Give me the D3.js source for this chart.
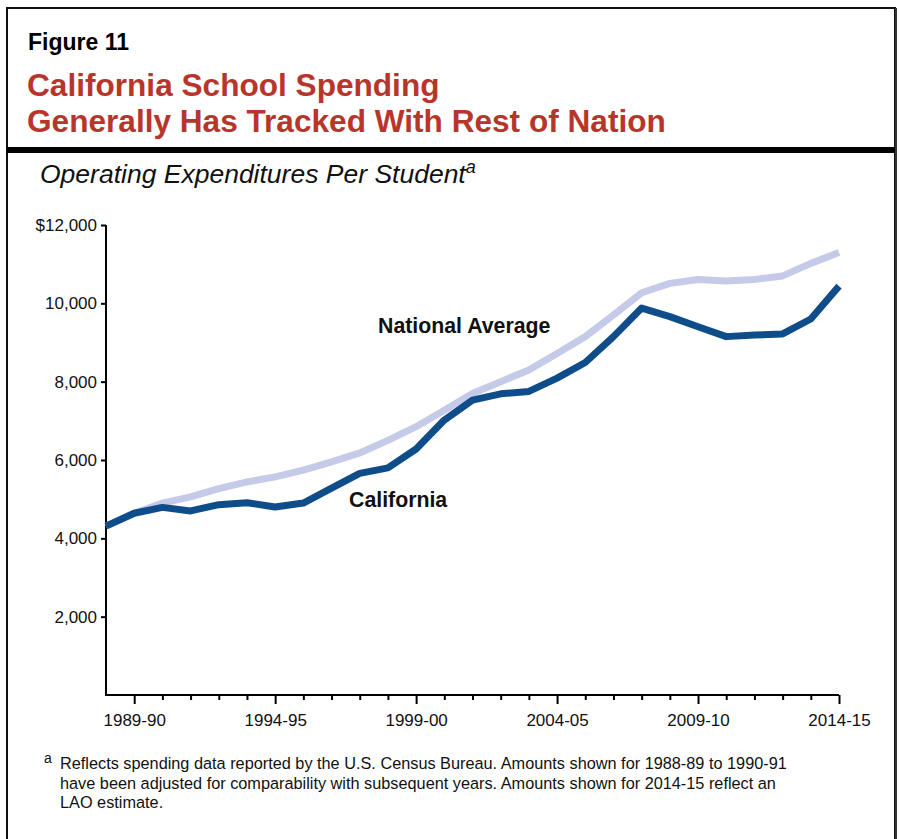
<!DOCTYPE html>
<html><head><meta charset="utf-8">
<script src="https://cdn.jsdelivr.net/npm/d3@7"></script>
<style>
html,body{margin:0;padding:0;background:#fff;}
svg{display:block;font-family:"Liberation Sans",Arial,sans-serif;}
</style></head>
<body>
<svg id="chart" width="900" height="839"></svg>
<script>
const years = ["1988-89","1989-90","1990-91","1991-92","1992-93","1993-94","1994-95","1995-96","1996-97","1997-98","1998-99","1999-00","2000-01","2001-02","2002-03","2003-04","2004-05","2005-06","2006-07","2007-08","2008-09","2009-10","2010-11","2011-12","2012-13","2013-14","2014-15"];
const california = [4310,4640,4790,4700,4860,4910,4800,4900,5280,5660,5800,6280,7020,7530,7690,7750,8090,8490,9150,9880,9660,9400,9150,9190,9220,9600,10440];
const national   = [4310,4640,4900,5060,5270,5440,5570,5740,5950,6180,6500,6850,7270,7700,8000,8300,8720,9150,9700,10270,10510,10610,10570,10610,10700,11020,11300];
const yTicks = [2000,4000,6000,8000,10000,12000];
const xLabels = ["1989-90","1994-95","1999-00","2004-05","2009-10","2014-15"];
const footnoteLines = [
  "Reflects spending data reported by the U.S. Census Bureau. Amounts shown for 1988-89 to 1990-91",
  "have been adjusted for comparability with subsequent years. Amounts shown for 2014-15 reflect an",
  "LAO estimate."
];

const svg = d3.select("#chart");
const red = "#b8352b";

// frame
svg.append("path").attr("d","M7,839 V8 H895 V839").attr("fill","none").attr("stroke","#111").attr("stroke-width",2);
svg.append("rect").attr("x",7).attr("y",147).attr("width",888).attr("height",6).attr("fill","#000");
svg.append("line").attr("x1",896).attr("x2",896).attr("y1",8).attr("y2",839).attr("stroke","#333").attr("stroke-width",2);

// titles
svg.append("text").attr("x",28).attr("y",50).attr("font-size",23).attr("font-weight","bold").attr("fill","#000").text("Figure 11");
svg.append("text").attr("x",27).attr("y",96).attr("font-size",31.6).attr("font-weight","bold").attr("fill",red).text("California School Spending");
svg.append("text").attr("x",27).attr("y",132).attr("font-size",31.6).attr("font-weight","bold").attr("fill",red).text("Generally Has Tracked With Rest of Nation");

const sub = svg.append("text").attr("x",40).attr("y",183).attr("font-size",26.5).attr("font-style","italic").attr("fill","#111");
sub.append("tspan").text("Operating Expenditures Per Student");
sub.append("tspan").attr("font-size",18).attr("dy",-10).text("a");

// scales
const x = d3.scalePoint().domain(years).range([106,839]);
const y = d3.scaleLinear().domain([0,12000]).range([695,225]);

// axes
const xAxis = d3.axisBottom(x).tickSize(5).tickFormat(d => xLabels.includes(d) ? d : "");
const gx = svg.append("g").attr("transform","translate(0,695)").call(xAxis);
gx.select(".domain").attr("stroke","#000").attr("stroke-width",2).attr("d","M105,0H839");
gx.selectAll(".tick line").attr("stroke","#000").attr("stroke-width",2)
  .attr("y2", d => xLabels.includes(d) ? 9 : 5);
gx.selectAll(".tick").filter(d => d === years[0]).remove();
gx.selectAll(".tick text").attr("font-size",17).attr("fill","#111").attr("dy",0).attr("y",31)
  .style("font-family","'Liberation Sans',Arial,sans-serif");

const yAxis = d3.axisLeft(y).tickValues(yTicks).tickSize(5).tickFormat(d => d === 12000 ? "$12,000" : d3.format(",")(d));
const gy = svg.append("g").attr("transform","translate(106,0)").call(yAxis);
gy.select(".domain").attr("stroke","#000").attr("stroke-width",2).attr("d","M0,225V696");
gy.selectAll(".tick line").attr("stroke","#000").attr("stroke-width",2);
gy.selectAll(".tick text").attr("font-size",17).attr("fill","#111").attr("x",-9)
  .style("font-family","'Liberation Sans',Arial,sans-serif");

// lines
const line = d3.line().x((d,i) => x(years[i])).y(d => y(d));
svg.append("path").datum(national).attr("d",line).attr("fill","none").attr("stroke","#c5cae8").attr("stroke-width",7).attr("stroke-linejoin","round");
svg.append("path").datum(california).attr("d",line).attr("fill","none").attr("stroke","#0f4d8a").attr("stroke-width",7).attr("stroke-linejoin","round");

// labels
svg.append("text").attr("x",378).attr("y",333).attr("font-size",21.3).attr("font-weight","bold").attr("fill","#111").text("National Average");
svg.append("text").attr("x",349).attr("y",507).attr("font-size",21.3).attr("font-weight","bold").attr("fill","#111").text("California");

// footnote
svg.append("text").attr("x",44).attr("y",763).attr("font-size",14).attr("fill","#111").text("a");
footnoteLines.forEach((t,i) => {
  svg.append("text").attr("x",60).attr("y",769 + i*19.5).attr("font-size",16.3).attr("fill","#111").text(t);
});
</script>
</body></html>
